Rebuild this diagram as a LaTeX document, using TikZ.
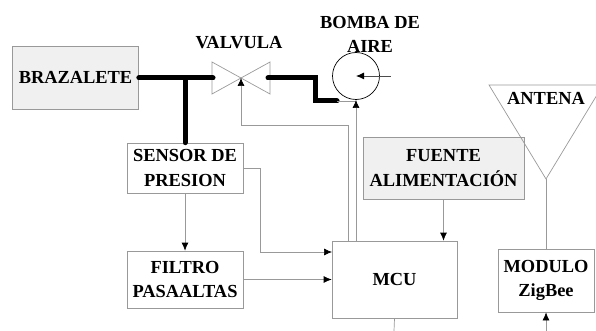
\documentclass[tikz,border=0pt]{standalone}
\usepackage{fontspec}
\setmainfont{Liberation Serif}
\usetikzlibrary{arrows.meta}
\tikzset{
    blocco/.style={draw=gray!80, line width=0.7pt, inner sep=0pt, align=center},
    bloccogrigio/.style={blocco, fill=black!6},
    etichetta/.style={inner sep=0pt, align=center},
    filo/.style={draw=gray!80, line width=0.7pt},
    tubo/.style={line width=5pt, line cap=round, line join=miter},
}
\begin{document}
\begin{tikzpicture}[x=1pt, y=-1pt, font=\fontsize{18.4}{24.5}\selectfont\bfseries,
    >={Latex[length=8pt, width=7pt, black]}]

    \useasboundingbox (0,0) rectangle (596,331);
    \clip (0,0) rectangle (596,331);

    % --- Blocchi principali ---
    \node[bloccogrigio, minimum width=126, minimum height=63] (brazalete) at (75.5,77.5) {BRAZALETE};
    \node[blocco, minimum width=116, minimum height=50] (sensor) at (185,168) {SENSOR DE\\PRESION};
    \node[blocco, minimum width=116, minimum height=57] (filtro) at (185,279.5) {FILTRO\\PASAALTAS};
    \node[bloccogrigio, minimum width=161, minimum height=62] (fuente) at (443.5,168) {FUENTE\\ALIMENTACIÓN};
    \node[blocco, minimum width=125, minimum height=77] (mcu) at (394.5,279.5) {MCU};
    \node[blocco, minimum width=96, minimum height=63] (modulo) at (546,280.5) {MODULO\\ZigBee};

    % --- Valvola ---
    \coordinate (valvula) at (241,78);
    \draw[filo] (212,62) -- (212,94) -- (valvula) -- cycle;
    \draw[filo] (270,62) -- (270,94) -- (valvula) -- cycle;
    \node[etichetta] (valvulatxt) at (239,43) {VALVULA};

    % --- Bomba ---
    \node[draw, circle, line width=0.7pt, minimum size=47, inner sep=0pt] (bomba) at (356,76) {};
    \node[etichetta] (bombatxt) at (370,34.5) {BOMBA DE\\AIRE};
    \coordinate (bombafin) at (390.5,76);
    \draw[->, line width=0.9pt, black!70] (bombafin) -- (bomba.center);

    % --- Antenna ---
    \coordinate (antpunta) at (546,179);
    \draw[filo] (489,85) -- (603,85) -- (antpunta) -- cycle;
    \node[etichetta] (antena) at (546,98) {ANTENA};

    % --- Tubi spessi ---
    \coordinate (giunto) at (185,78);
    \coordinate (tuboA) at (213,78);
    \coordinate (tuboB) at (268,78);
    \coordinate (tuboC) at (337,101);
    \draw[tubo] (brazalete.east |- giunto) -- (tuboA);
    \draw[tubo] (giunto) -- (sensor.north);
    \draw[tubo] (tuboB) -- (315,78) -- (315,101) -- (tuboC);
    \draw[filo] (tuboC) -- (356,101);

    % --- Collegamenti ---
    \coordinate (mcuA) at (348.5,241);
    \coordinate (mcuB) at (356,241);
    \coordinate (mcuS) at (332,252);
    \coordinate (mcuG) at (394,331);
    \coordinate (zigG) at (546,331);
    \draw[filo, ->] (mcuA) -- (348.5,125) -- (241,125) -- (valvula);
    \draw[filo, ->] (mcuB) -- (356,100);
    \draw[filo, ->] (sensor.east) -- (260.5,168) -- (260.5,252) -- (mcuS);
    \draw[filo, ->] (sensor.south) -- (filtro.north);
    \draw[filo, ->] (filtro.east) -- (mcu.west);
    \draw[filo, ->] (fuente.south) -- (fuente.south |- mcu.north);
    \draw[filo] (antpunta) -- (modulo.north);
    \draw[filo, ->] (zigG) -- (modulo.south);
    \draw[filo] (mcu.south) -- (mcuG);

\end{tikzpicture}
\end{document}
